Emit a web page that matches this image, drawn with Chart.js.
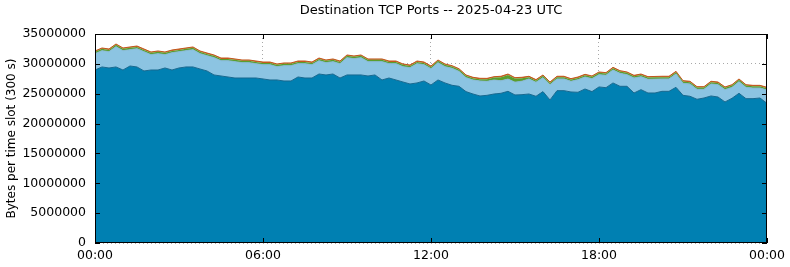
<!DOCTYPE html>
<html>
<head>
<meta charset="utf-8">
<script src="https://cdn.jsdelivr.net/npm/chart.js@4/dist/chart.umd.min.js"></script>
<style>
  body { margin: 0; background: #fff; }
  canvas { display: block; }
</style>
</head>
<body>
<canvas id="ports" width="790" height="267"></canvas>
<script>
// one slot every 15 minutes, hours since midnight
const hours = [];
for (let i = 0; i <= 96; i++) hours.push(i * 0.25);

const xTicks = ['00:00', '06:00', '12:00', '18:00', '00:00'];
const yTicks = [0, 5000000, 10000000, 15000000, 20000000, 25000000, 30000000, 35000000];

// bytes per slot, bottom layer
const portMain = [
  28970000, 29480000, 29310000, 29480000, 28970000, 29640000, 29480000, 28810000,
  28970000, 28970000, 29310000, 28970000, 29310000, 29480000, 29480000, 29140000,
  28810000, 28140000, 27970000, 27800000, 27630000, 27630000, 27630000, 27630000,
  27470000, 27300000, 27300000, 27130000, 27130000, 27800000, 27630000, 27630000,
  28300000, 28140000, 28300000, 27630000, 28140000, 28140000, 28140000, 27970000,
  28140000, 27300000, 27630000, 27300000, 26960000, 26630000, 26800000, 27130000,
  26460000, 27300000, 26800000, 26410000, 26240000, 25350000, 24950000, 24620000,
  24730000, 24950000, 25070000, 25400000, 24790000, 24840000, 24950000, 24570000,
  25350000, 23950000, 25510000, 25510000, 25290000, 25240000, 25790000, 25350000,
  26130000, 26010000, 26800000, 26240000, 26240000, 25120000, 25680000, 25120000,
  25120000, 25400000, 25400000, 26070000, 24730000, 24570000, 24070000, 24280000,
  24620000, 24450000, 23620000, 24230000, 25070000, 24170000, 24170000, 24280000,
  23390000
];

// second layer
const portSecond = [
  2740000, 2730000, 2730000, 3400000, 3240000, 2740000, 3060000, 3230000,
  2570000, 2740000, 2230000, 2900000, 2730000, 2730000, 2900000, 2570000,
  2560000, 2900000, 2560000, 2730000, 2740000, 2570000, 2570000, 2400000,
  2390000, 2560000, 2230000, 2570000, 2570000, 2230000, 2400000, 2230000,
  2230000, 2060000, 2070000, 2400000, 2900000, 2730000, 2900000, 2400000,
  2230000, 3070000, 2400000, 2730000, 2570000, 2730000, 3230000, 2730000,
  2730000, 2900000, 2730000, 2840000, 2500000, 2340000, 2350000, 2510000,
  2340000, 2350000, 2100000, 2050000, 2150000, 2260000, 2520000, 2340000,
  2340000, 2560000, 1960000, 1960000, 1780000, 2110000, 2010000, 2170000,
  2060000, 2070000, 2170000, 2170000, 1950000, 2510000, 2170000, 2290000,
  2320000, 2070000, 2070000, 2230000, 2010000, 2060000, 1660000, 1450000,
  2010000, 2060000, 2060000, 1830000, 1950000, 1890000, 1780000, 1670000,
  2230000
];

// thin layers on top
const portThird = [
  300000, 300000, 300000, 300000, 300000, 300000, 300000, 300000,
  300000, 300000, 300000, 300000, 300000, 300000, 300000, 300000,
  300000, 300000, 300000, 300000, 300000, 300000, 300000, 300000,
  300000, 300000, 300000, 300000, 300000, 300000, 300000, 300000,
  300000, 300000, 300000, 300000, 300000, 300000, 300000, 300000,
  300000, 300000, 300000, 300000, 300000, 300000, 300000, 300000,
  300000, 300000, 300000, 300000, 300000, 300000, 300000, 300000,
  350000, 400000, 600000, 700000, 600000, 500000, 300000, 300000,
  300000, 300000, 300000, 300000, 300000, 300000, 300000, 300000,
  300000, 300000, 300000, 300000, 300000, 300000, 300000, 300000,
  300000, 300000, 300000, 300000, 300000, 300000, 300000, 300000,
  300000, 300000, 300000, 300000, 300000, 300000, 300000, 300000,
  300000
];
const portFourth = portThird.map(() => 150000);

function toPoints(arr) {
  return arr.map((v, i) => ({ x: hours[i], y: v }));
}

// gnuplot-ish frame, inward ticks and the title over the plot area
const framePlugin = {
  id: 'frame',
  afterDraw(chart) {
    const { ctx, chartArea: a, scales: { x, y } } = chart;
    ctx.save();
    ctx.strokeStyle = '#000';
    ctx.lineWidth = 1;
    ctx.strokeRect(a.left + 0.5, a.top + 0.5, a.right - a.left - 1, a.bottom - a.top - 1);
    ctx.beginPath();
    for (let h = 0; h <= 24; h += 6) {
      const px = Math.round(x.getPixelForValue(h)) + 0.5;
      ctx.moveTo(px, a.bottom); ctx.lineTo(px, a.bottom - 5);
      ctx.moveTo(px, a.top); ctx.lineTo(px, a.top + 5);
    }
    yTicks.forEach(v => {
      const py = Math.round(y.getPixelForValue(v)) + 0.5;
      ctx.moveTo(a.left, py); ctx.lineTo(a.left + 5, py);
      ctx.moveTo(a.right, py); ctx.lineTo(a.right - 5, py);
    });
    ctx.stroke();
    ctx.fillStyle = '#000';
    ctx.font = '13px "DejaVu Sans"';
    ctx.textAlign = 'center';
    ctx.textBaseline = 'middle';
    ctx.fillText('Destination TCP Ports -- 2025-04-23 UTC', (a.left + a.right) / 2, 11);
    ctx.restore();
  }
};

new Chart(document.getElementById('ports'), {
  type: 'line',
  data: {
    datasets: [
      { data: toPoints(portMain), fill: 'origin', backgroundColor: '#0080b2', borderColor: '#17688f', borderWidth: 1 },
      { data: toPoints(portSecond), fill: '-1', backgroundColor: '#8cc4e2', borderColor: '#86b8d2', borderWidth: 1 },
      { data: toPoints(portThird), fill: '-1', backgroundColor: '#5a9e2e', borderColor: '#5a9e2e', borderWidth: 0 },
      { data: toPoints(portFourth), fill: '-1', backgroundColor: '#cc5a1a', borderColor: '#c0561c', borderWidth: 1 }
    ]
  },
  options: {
    responsive: false,
    animation: false,
    devicePixelRatio: 1,
    elements: { point: { radius: 0 }, line: { tension: 0 } },
    layout: { padding: { top: 34, right: 22, left: 0, bottom: 0 } },
    plugins: { legend: { display: false }, tooltip: { enabled: false } },
    scales: {
      x: {
        type: 'linear',
        min: 0,
        max: 24,
        afterFit(scale) { scale.height = 24; },
        afterBuildTicks(scale) { scale.ticks = xTicks.map((t, i) => ({ value: i * 6 })); },
        ticks: {
          padding: 5,
          color: '#000',
          font: { family: 'DejaVu Sans', size: 12.5 },
          callback: (v, i) => xTicks[i]
        },
        grid: { color: '#a8a8a8', drawTicks: false },
        border: { display: false, dash: [1, 3] }
      },
      y: {
        stacked: true,
        min: 0,
        max: 35000000,
        afterFit(scale) { scale.width = 95; },
        afterBuildTicks(scale) { scale.ticks = yTicks.map(v => ({ value: v })); },
        ticks: {
          padding: 9,
          color: '#000',
          font: { family: 'DejaVu Sans', size: 12.5 },
          callback: v => String(v)
        },
        title: {
          display: true,
          text: 'Bytes per time slot (300 s)',
          color: '#000',
          font: { family: 'DejaVu Sans', size: 12 },
          padding: { top: 5, bottom: 0 }
        },
        grid: { color: '#a8a8a8', drawTicks: false },
        border: { display: false, dash: [1, 3] }
      }
    }
  },
  plugins: [framePlugin]
});
</script>
</body>
</html>
